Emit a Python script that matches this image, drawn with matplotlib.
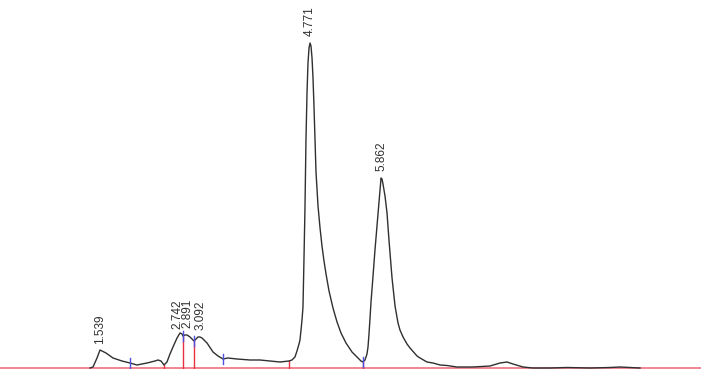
import numpy as np
import matplotlib
matplotlib.use("Agg")
import matplotlib.pyplot as plt

# trace: retention time (min) and signal (mV)
rt = [1.392, 1.438, 1.499, 1.545, 1.576, 1.637, 1.745, 1.883, 2.006, 2.113,
      2.267, 2.390, 2.436, 2.482, 2.528, 2.574, 2.620, 2.666, 2.728, 2.774,
      2.805, 2.820, 2.851, 2.882, 2.928, 2.989, 3.020, 3.050, 3.081, 3.112,
      3.189, 3.281, 3.358, 3.435, 3.511, 3.650, 3.849, 4.003, 4.156, 4.310,
      4.448, 4.494, 4.540, 4.571, 4.602, 4.617, 4.633, 4.648, 4.663, 4.679,
      4.694, 4.709, 4.725, 4.740, 4.756, 4.771, 4.786, 4.802, 4.817, 4.832,
      4.848, 4.863, 4.894, 4.925, 4.955, 4.986, 5.017, 5.063, 5.124, 5.186,
      5.247, 5.324, 5.416, 5.493, 5.554, 5.585, 5.616, 5.646, 5.662, 5.677,
      5.693, 5.708, 5.739, 5.769, 5.800, 5.831, 5.862, 5.877, 5.892, 5.923,
      5.954, 5.984, 6.000, 6.031, 6.077, 6.123, 6.153, 6.200, 6.261, 6.307,
      6.415, 6.461, 6.568, 6.660, 6.768, 6.875, 7.029, 7.275, 7.536, 7.690,
      7.797, 7.889, 8.043, 8.196, 8.458, 8.719, 9.072, 9.379, 9.533, 9.686,
      9.840]
signal = [0, 1, 10, 18, 17, 15, 10, 7, 5, 3,
          5, 7, 8, 7, 3, 6, 14, 21, 30, 35,
          34, 32, 33, 33, 31, 27, 29, 31, 31, 30,
          25, 16, 12, 9, 10, 9, 8, 8, 7, 6,
          7, 8, 11, 17, 24, 28, 38, 48, 61, 111,
          161, 228, 275, 305, 320, 325, 322, 310, 290, 262,
          228, 196, 162, 140, 122, 107, 94, 77, 60, 46,
          35, 25, 16, 11, 7, 6, 8, 14, 21, 34,
          50, 66, 92, 118, 142, 166, 190, 189, 184, 172,
          155, 128, 115, 90, 62, 45, 38, 31, 24, 20,
          12, 10, 6, 5, 3, 2.5, 1, 1, 2, 5,
          6, 4, 1, 0, 0, 0.5, 0, 0.5, 1, 0.5,
          0]

peak_rt = [1.539, 2.742, 2.891, 3.092, 4.771, 5.862]
peak_labels = ["1.539", "2.742", "2.891", "3.092", "4.771", "5.862"]

# integration marks
drop_rt = [2.528, 2.820, 2.989, 4.448, 5.585]
valley_rt = [2.006, 2.820, 2.989, 3.435, 5.585]

fig = plt.figure(figsize=(7.01, 3.69), dpi=100)
ax = fig.add_axes([0, 0, 1, 1])
ax.set_xlim(0.009, 10.777)
ax.set_ylim(-1, 368)
ax.axis("off")

# baseline
ax.axhline(0, color="#f07080", lw=1.2, zorder=1)

# drop lines from the baseline to the trace
for t in drop_rt:
    h = np.interp(t, rt, signal)
    ax.plot([t, t], [0, h], color="#e83040", lw=1.0, zorder=2)

ax.plot(rt, signal, color="#303030", lw=1.0, zorder=3)

# valley ticks
for t in valley_rt:
    h = np.interp(t, rt, signal)
    ax.plot([t, t], [h - 5, h + 5], color="#5050e0", lw=1.0, zorder=4)

for t, lab in zip(peak_rt, peak_labels):
    h = np.interp(t, rt, signal)
    ax.annotate(lab, (t, h), xytext=(0, 7), textcoords="offset pixels",
                rotation=90, ha="center", va="bottom", fontsize=8.5,
                family="Liberation Sans", color="#303030")

fig.savefig("out.png", dpi=100)
